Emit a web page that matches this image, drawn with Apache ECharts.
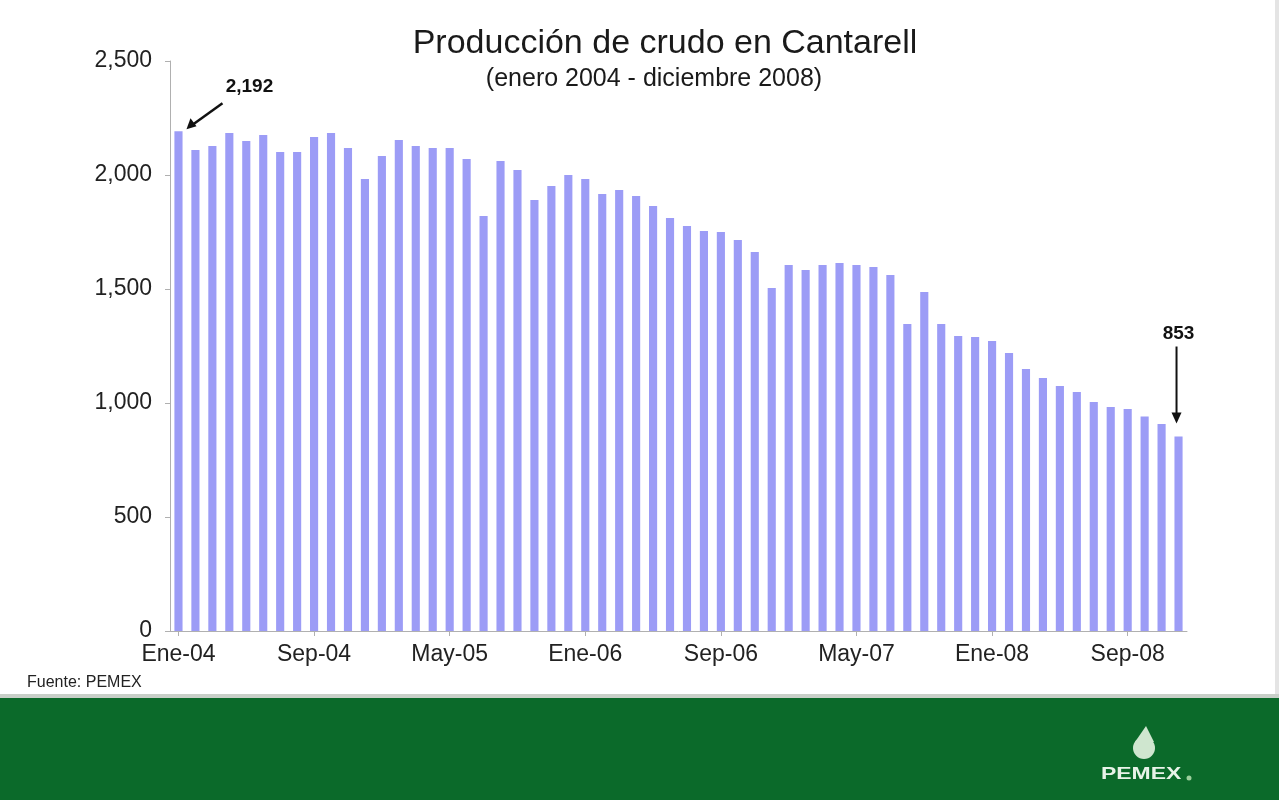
<!DOCTYPE html>
<html>
<head>
<meta charset="utf-8">
<script src="https://cdn.jsdelivr.net/npm/echarts@6/dist/echarts.min.js"></script>
<style>
html,body{margin:0;padding:0;background:#fff;}
#c{width:1279px;height:800px;}
</style>
</head>
<body>
<div id="c"></div>
<script>
const monthNames = ['Ene','Feb','Mar','Abr','May','Jun','Jul','Ago','Sep','Oct','Nov','Dic'];
const years = ['04','05','06','07','08'];
const categories = [];
years.forEach(y => monthNames.forEach(m => categories.push(m + '-' + y)));

const production = [
  2192, 2110, 2127, 2184, 2149, 2175, 2101, 2101, 2167, 2184, 2118, 1982,
  2083, 2154, 2127, 2118, 2118, 2070, 1820, 2061, 2022, 1890, 1952, 2000,
  1982, 1917, 1934, 1908, 1864, 1811, 1776, 1754, 1750, 1715, 1662, 1504,
  1605, 1583, 1605, 1614, 1605, 1596, 1561, 1346, 1487, 1346, 1294, 1289,
  1272, 1219, 1149, 1110, 1075, 1048, 1004, 982, 974, 941, 908, 853
];

const yTicks = [0, 500, 1000, 1500, 2000, 2500];
const titleText = 'Producción de crudo en Cantarell';
const subtitleText = '(enero 2004 - diciembre 2008)';
const sourceText = 'Fuente: PEMEX';
const firstLabel = '2,192';
const lastLabel = '853';

const font = '"Liberation Sans", Arial, sans-serif';
const chart = echarts.init(document.getElementById('c'));

const fmt = v => v.toString().replace(/\B(?=(\d{3})+(?!\d))/g, ',');

chart.setOption({
  animation: false,
  backgroundColor: '#ffffff',
  textStyle: { fontFamily: font },
  title: [
    { text: titleText, left: 660, top: 22, textAlign: 'center',
      textStyle: { fontSize: 34, fontWeight: 'normal', color: '#1a1a1a', fontFamily: font } },
    { text: subtitleText, left: 649, top: 62, textAlign: 'center',
      textStyle: { fontSize: 25, fontWeight: 'normal', color: '#1a1a1a', fontFamily: font } }
  ],
  grid: { left: 170, right: 92, top: 61, bottom: 169, containLabel: false },
  xAxis: {
    type: 'category',
    data: categories,
    boundaryGap: true,
    axisLine: { lineStyle: { color: '#b0b0b0', width: 1 } },
    axisTick: { show: true, alignWithLabel: true, interval: 7, length: 5, lineStyle: { color: '#b0b0b0' } },
    axisLabel: { interval: 7, fontSize: 23, color: '#222', margin: 12, fontFamily: font }
  },
  yAxis: {
    type: 'value',
    min: 0, max: 2500, interval: 500,
    splitLine: { show: false },
    axisLine: { show: true, lineStyle: { color: '#b0b0b0', width: 1 } },
    axisTick: { show: true, length: 5, lineStyle: { color: '#b0b0b0' } },
    axisLabel: { fontSize: 23, color: '#222', margin: 18, fontFamily: font, formatter: v => fmt(v) }
  },
  series: [{
    type: 'bar',
    data: production,
    barWidth: '48%',
    itemStyle: { color: '#9c9cf6' }
  }]
});

// Annotations derived from data positions
const p0 = chart.convertToPixel({ gridIndex: 0 }, [0, production[0]]);
const n = production.length - 1;
const pN = chart.convertToPixel({ gridIndex: 0 }, [n, production[n]]);

chart.setOption({
  graphic: [
    { type: 'line', shape: { x1: p0[0] + 44, y1: p0[1] - 28, x2: p0[0] + 12, y2: p0[1] - 5 },
      style: { stroke: '#111', lineWidth: 2.5 } },
    { type: 'polygon', shape: { points: [
        [p0[0] + 8, p0[1] - 2], [p0[0] + 12, p0[1] - 13], [p0[0] + 18, p0[1] - 5]] },
      style: { fill: '#111' } },
    { type: 'text', x: p0[0] + 71, y: p0[1] - 44, style: { text: firstLabel, font: 'bold 19px ' + font, fill: '#111', textAlign: 'center', textVerticalAlign: 'middle' } },
    { type: 'line', shape: { x1: pN[0] - 2, y1: pN[1] - 90, x2: pN[0] - 2, y2: pN[1] - 22 },
      style: { stroke: '#111', lineWidth: 2 } },
    { type: 'polygon', shape: { points: [
        [pN[0] - 7, pN[1] - 24], [pN[0] + 3, pN[1] - 24], [pN[0] - 2, pN[1] - 13]] },
      style: { fill: '#111' } },
    { type: 'text', x: pN[0], y: pN[1] - 103, style: { text: lastLabel, font: 'bold 19px ' + font, fill: '#111', textAlign: 'center', textVerticalAlign: 'middle' } },
    { type: 'text', x: 27, y: 675, style: { text: sourceText, font: '16px ' + font, fill: '#222' } },
    { type: 'rect', x: 0, y: 694, shape: { x: 0, y: 0, width: 1279, height: 4 }, style: { fill: '#c8cfc8' } },
    { type: 'rect', x: 0, y: 698, shape: { x: 0, y: 0, width: 1279, height: 102 }, style: { fill: '#0b6a2a' } },
    { type: 'rect', x: 1275, y: 0, shape: { x: 0, y: 0, width: 4, height: 694 }, style: { fill: '#e4e4e4' } },
    { type: 'circle', shape: { cx: 1144, cy: 748, r: 11 }, style: { fill: '#cfe6cf' } },
    { type: 'polygon', shape: { points: [[1146, 726], [1135, 742], [1154, 742]] }, style: { fill: '#cfe6cf' } },
    { type: 'text', x: 1101, y: 766, scaleX: 1.35, style: { text: 'PEMEX', font: 'bold 17px ' + font, fill: '#e8f3e8' } },
    { type: 'circle', shape: { cx: 1189, cy: 778, r: 2.5 }, style: { fill: '#9ccf9c' } }
  ]
});
</script>
</body>
</html>
